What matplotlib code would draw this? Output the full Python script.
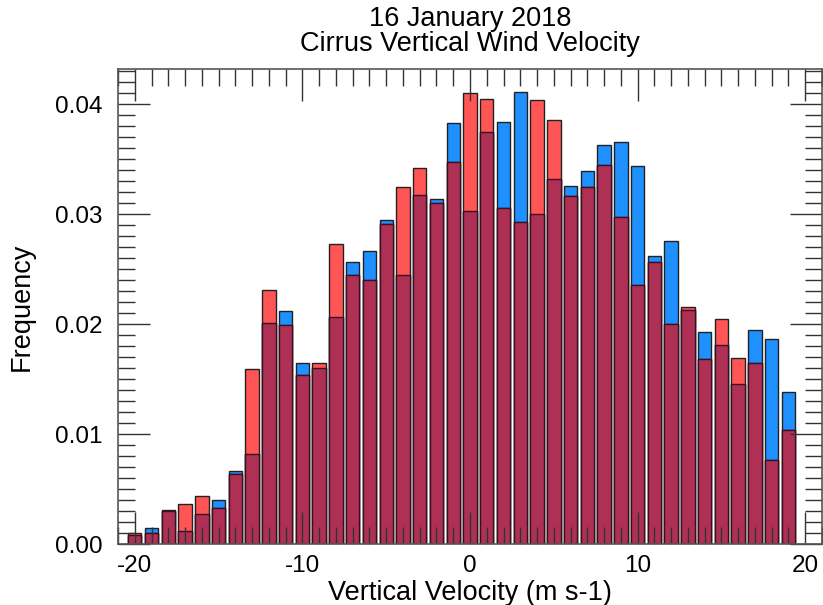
import numpy as np
import matplotlib.pyplot as plt
from matplotlib.ticker import MultipleLocator, FormatStrFormatter

plt.rcParams['font.family'] = ['Liberation Sans', 'DejaVu Sans']
plt.rcParams['axes.unicode_minus'] = False

# Histogram bins (m s-1), one per integer velocity
bins = np.arange(-20, 20)

# Frequency per bin for the two samples
freq_blue = [0.0008, 0.0015, 0.0030, 0.0012, 0.0027, 0.0040, 0.0066, 0.0082,
             0.0201, 0.0212, 0.0165, 0.0160, 0.0207, 0.0257, 0.0267, 0.0295,
             0.0245, 0.0318, 0.0314, 0.0383, 0.0303, 0.0375, 0.0384, 0.0411,
             0.0300, 0.0332, 0.0326, 0.0339, 0.0363, 0.0366, 0.0344, 0.0262,
             0.0276, 0.0213, 0.0193, 0.0181, 0.0146, 0.0195, 0.0187, 0.0138]
freq_red = [0.0010, 0.0010, 0.0031, 0.0036, 0.0044, 0.0033, 0.0064, 0.0159,
            0.0231, 0.0199, 0.0154, 0.0165, 0.0273, 0.0245, 0.0240, 0.0291,
            0.0325, 0.0342, 0.0310, 0.0348, 0.0410, 0.0405, 0.0306, 0.0293,
            0.0404, 0.0386, 0.0317, 0.0325, 0.0345, 0.0298, 0.0236, 0.0257,
            0.0200, 0.0216, 0.0168, 0.0205, 0.0169, 0.0165, 0.0076, 0.0104]

# Overlapping part of both histograms
freq_both = np.minimum(freq_blue, freq_red)

fig = plt.figure(figsize=(8.23, 6.05), dpi=100)
ax = fig.add_axes([0.1434, 0.1008, 0.8554, 0.7847])

w = 0.8
ax.bar(bins, freq_blue, width=w, color='#1E90FF', edgecolor='#222222', linewidth=1.0)
ax.bar(bins, freq_red, width=w, color='#FF5555', edgecolor='#222222', linewidth=1.0)
ax.bar(bins, freq_both, width=w, color='#AE3055', edgecolor='#3a1020', linewidth=1.0)

ax.set_xlim(-21, 21)
ax.set_ylim(0, 0.0432)
ax.xaxis.set_major_locator(MultipleLocator(10))
ax.xaxis.set_minor_locator(MultipleLocator(1))
ax.yaxis.set_major_locator(MultipleLocator(0.01))
ax.yaxis.set_minor_locator(MultipleLocator(0.001))
ax.yaxis.set_major_formatter(FormatStrFormatter('%.2f'))

ax.tick_params(which='both', direction='in', top=True, right=True, color='#333333', width=1.0)
ax.tick_params(which='major', length=23, labelsize=17.5)
ax.tick_params(which='minor', length=12)
ax.tick_params(axis='y', which='major', pad=11)
ax.tick_params(axis='x', which='major', pad=8)
for s in ax.spines.values():
    s.set_color('#555555')
    s.set_linewidth(1.2)

ax.set_xlabel('Vertical Velocity (m s-1)', fontsize=19.5, labelpad=2)
ax.set_ylabel('Frequency', fontsize=19.5, labelpad=15)
ax.set_title('16 January 2018\nCirrus Vertical Wind Velocity', fontsize=19.5, pad=13,
             linespacing=0.95)

fig.savefig('out.png', dpi=100)
